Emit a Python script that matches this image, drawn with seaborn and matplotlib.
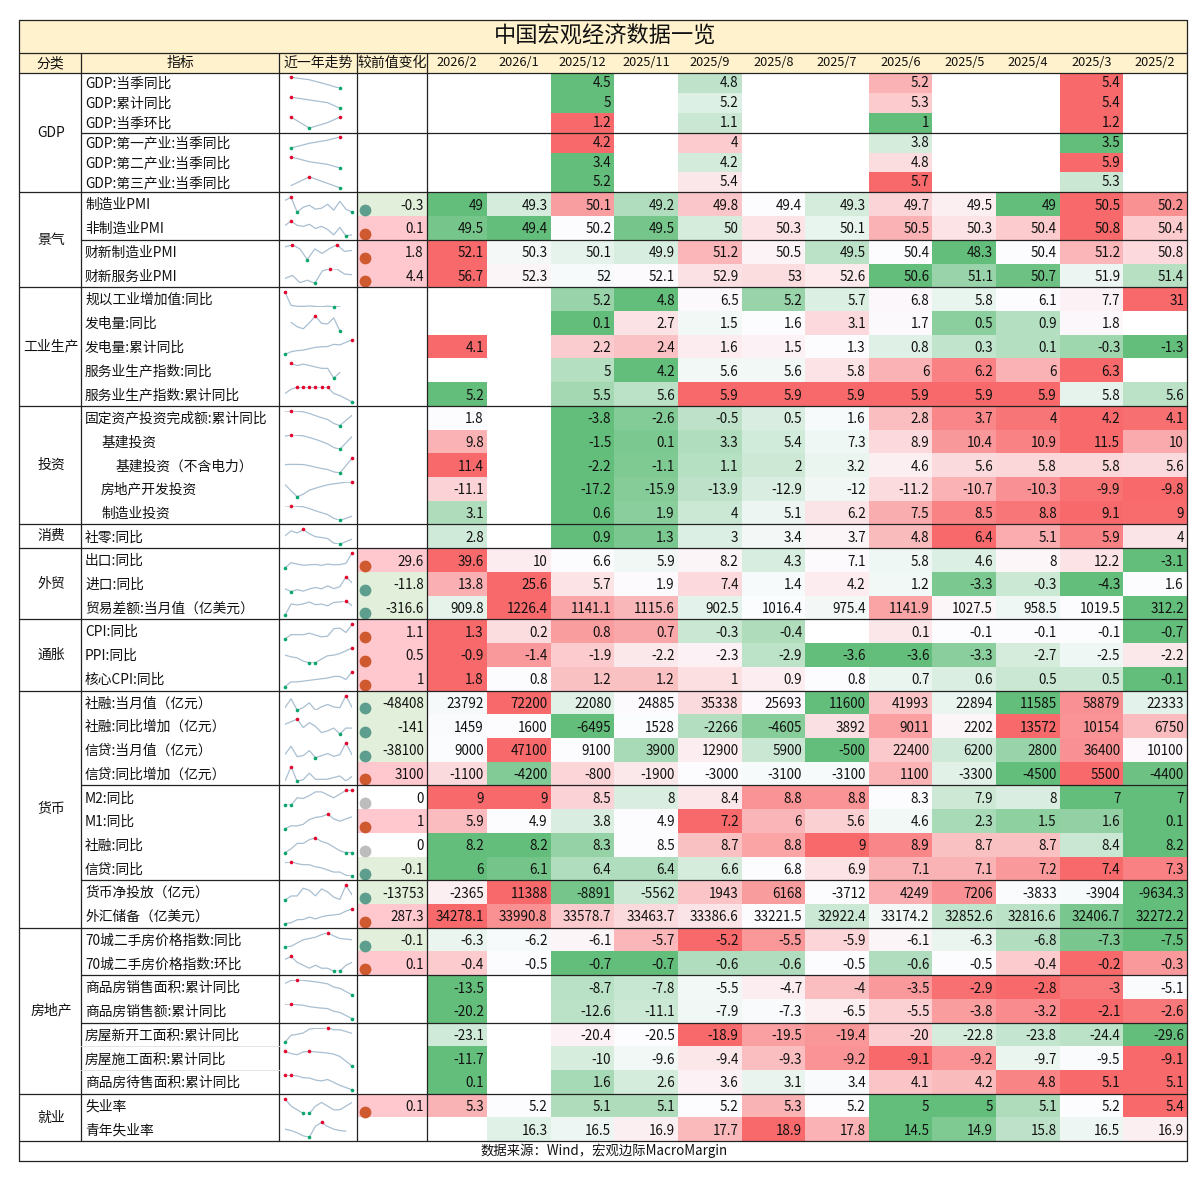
import numpy as np
import seaborn as sns
from matplotlib import pyplot as plt
from matplotlib.colors import LinearSegmentedColormap, ListedColormap
from matplotlib.patches import Rectangle

sns.set_theme(style="white")
plt.rcParams['font.family'] = ['Noto Sans CJK SC', 'DejaVu Sans']

nan = np.nan
# ------------------------------------
title = "中国宏观经济数据一览"
footer = "数据来源：Wind，宏观边际MacroMargin"
header_left = ["分类", "指标", "近一年走势", "较前值变化"]
months = ["2026/2", "2026/1", "2025/12", "2025/11", "2025/9", "2025/8", "2025/7", "2025/6", "2025/5", "2025/4", "2025/3", "2025/2"]
categories = ["GDP", "景气", "工业生产", "投资", "消费", "外贸", "通胀", "货币", "房地产", "就业"]
category_sizes = [6, 4, 5, 5, 1, 3, 3, 10, 7, 2]
row_labels = [
    "GDP:当季同比", "GDP:累计同比", "GDP:当季环比", "GDP:第一产业:当季同比", "GDP:第二产业:当季同比", "GDP:第三产业:当季同比",
    "制造业PMI", "非制造业PMI", "财新制造业PMI", "财新服务业PMI",
    "规以工业增加值:同比", "发电量:同比", "发电量:累计同比", "服务业生产指数:同比", "服务业生产指数:累计同比",
    "固定资产投资完成额:累计同比", "基建投资", "基建投资（不含电力）", "房地产开发投资", "制造业投资",
    "社零:同比",
    "出口:同比", "进口:同比", "贸易差额:当月值（亿美元）",
    "CPI:同比", "PPI:同比", "核心CPI:同比",
    "社融:当月值（亿元）", "社融:同比增加（亿元）", "信贷:当月值（亿元）", "信贷:同比增加（亿元）",
    "M2:同比", "M1:同比", "社融:同比", "信贷:同比", "货币净投放（亿元）", "外汇储备（亿美元）",
    "70城二手房价格指数:同比", "70城二手房价格指数:环比", "商品房销售面积:累计同比", "商品房销售额:累计同比",
    "房屋新开工面积:累计同比", "房屋施工面积:累计同比", "商品房待售面积:累计同比",
    "失业率", "青年失业率",
]
# -----------------
gdp_values = [
    [nan, nan, 4.5, nan, 4.8, nan, nan, 5.2, nan, nan, 5.4, nan],
    [nan, nan, 5, nan, 5.2, nan, nan, 5.3, nan, nan, 5.4, nan],
    [nan, nan, 1.2, nan, 1.1, nan, nan, 1, nan, nan, 1.2, nan],
    [nan, nan, 4.2, nan, 4, nan, nan, 3.8, nan, nan, 3.5, nan],
    [nan, nan, 3.4, nan, 4.2, nan, nan, 4.8, nan, nan, 5.9, nan],
    [nan, nan, 5.2, nan, 5.4, nan, nan, 5.7, nan, nan, 5.3, nan],
]
pmi_values = [
    [49, 49.3, 50.1, 49.2, 49.8, 49.4, 49.3, 49.7, 49.5, 49, 50.5, 50.2],
    [49.5, 49.4, 50.2, 49.5, 50, 50.3, 50.1, 50.5, 50.3, 50.4, 50.8, 50.4],
    [52.1, 50.3, 50.1, 49.9, 51.2, 50.5, 49.5, 50.4, 48.3, 50.4, 51.2, 50.8],
    [56.7, 52.3, 52, 52.1, 52.9, 53, 52.6, 50.6, 51.1, 50.7, 51.9, 51.4],
]
industry_values = [
    [nan, nan, 5.2, 4.8, 6.5, 5.2, 5.7, 6.8, 5.8, 6.1, 7.7, 31],
    [nan, nan, 0.1, 2.7, 1.5, 1.6, 3.1, 1.7, 0.5, 0.9, 1.8, nan],
    [4.1, nan, 2.2, 2.4, 1.6, 1.5, 1.3, 0.8, 0.3, 0.1, -0.3, -1.3],
    [nan, nan, 5, 4.2, 5.6, 5.6, 5.8, 6, 6.2, 6, 6.3, nan],
    [5.2, nan, 5.5, 5.6, 5.9, 5.9, 5.9, 5.9, 5.9, 5.9, 5.8, 5.6],
]
invest_values = [
    [1.8, nan, -3.8, -2.6, -0.5, 0.5, 1.6, 2.8, 3.7, 4, 4.2, 4.1],
    [9.8, nan, -1.5, 0.1, 3.3, 5.4, 7.3, 8.9, 10.4, 10.9, 11.5, 10],
    [11.4, nan, -2.2, -1.1, 1.1, 2, 3.2, 4.6, 5.6, 5.8, 5.8, 5.6],
    [-11.1, nan, -17.2, -15.9, -13.9, -12.9, -12, -11.2, -10.7, -10.3, -9.9, -9.8],
    [3.1, nan, 0.6, 1.9, 4, 5.1, 6.2, 7.5, 8.5, 8.8, 9.1, 9],
]
retail_values = [
    [2.8, nan, 0.9, 1.3, 3, 3.4, 3.7, 4.8, 6.4, 5.1, 5.9, 4],
]
trade_values = [
    [39.6, 10, 6.6, 5.9, 8.2, 4.3, 7.1, 5.8, 4.6, 8, 12.2, -3.1],
    [13.8, 25.6, 5.7, 1.9, 7.4, 1.4, 4.2, 1.2, -3.3, -0.3, -4.3, 1.6],
    [909.8, 1226.4, 1141.1, 1115.6, 902.5, 1016.4, 975.4, 1141.9, 1027.5, 958.5, 1019.5, 312.2],
]
price_values = [
    [1.3, 0.2, 0.8, 0.7, -0.3, -0.4, nan, 0.1, -0.1, -0.1, -0.1, -0.7],
    [-0.9, -1.4, -1.9, -2.2, -2.3, -2.9, -3.6, -3.6, -3.3, -2.7, -2.5, -2.2],
    [1.8, 0.8, 1.2, 1.2, 1, 0.9, 0.8, 0.7, 0.6, 0.5, 0.5, -0.1],
]
money_values = [
    [23792, 72200, 22080, 24885, 35338, 25693, 11600, 41993, 22894, 11585, 58879, 22333],
    [1459, 1600, -6495, 1528, -2266, -4605, 3892, 9011, 2202, 13572, 10154, 6750],
    [9000, 47100, 9100, 3900, 12900, 5900, -500, 22400, 6200, 2800, 36400, 10100],
    [-1100, -4200, -800, -1900, -3000, -3100, -3100, 1100, -3300, -4500, 5500, -4400],
    [9, 9, 8.5, 8, 8.4, 8.8, 8.8, 8.3, 7.9, 8, 7, 7],
    [5.9, 4.9, 3.8, 4.9, 7.2, 6, 5.6, 4.6, 2.3, 1.5, 1.6, 0.1],
    [8.2, 8.2, 8.3, 8.5, 8.7, 8.8, 9, 8.9, 8.7, 8.7, 8.4, 8.2],
    [6, 6.1, 6.4, 6.4, 6.6, 6.8, 6.9, 7.1, 7.1, 7.2, 7.4, 7.3],
    [-2365, 11388, -8891, -5562, 1943, 6168, -3712, 4249, 7206, -3833, -3904, -9634.3],
    [34278.1, 33990.8, 33578.7, 33463.7, 33386.6, 33221.5, 32922.4, 33174.2, 32852.6, 32816.6, 32406.7, 32272.2],
]
housing_values = [
    [-6.3, -6.2, -6.1, -5.7, -5.2, -5.5, -5.9, -6.1, -6.3, -6.8, -7.3, -7.5],
    [-0.4, -0.5, -0.7, -0.7, -0.6, -0.6, -0.5, -0.6, -0.5, -0.4, -0.2, -0.3],
    [-13.5, nan, -8.7, -7.8, -5.5, -4.7, -4, -3.5, -2.9, -2.8, -3, -5.1],
    [-20.2, nan, -12.6, -11.1, -7.9, -7.3, -6.5, -5.5, -3.8, -3.2, -2.1, -2.6],
    [-23.1, nan, -20.4, -20.5, -18.9, -19.5, -19.4, -20, -22.8, -23.8, -24.4, -29.6],
    [-11.7, nan, -10, -9.6, -9.4, -9.3, -9.2, -9.1, -9.2, -9.7, -9.5, -9.1],
    [0.1, nan, 1.6, 2.6, 3.6, 3.1, 3.4, 4.1, 4.2, 4.8, 5.1, 5.1],
]
jobs_values = [
    [5.3, 5.2, 5.1, 5.1, 5.2, 5.3, 5.2, 5, 5, 5.1, 5.2, 5.4],
    [nan, 16.3, 16.5, 16.9, 17.7, 18.9, 17.8, 14.5, 14.9, 15.8, 16.5, 16.9],
]
# change vs previous value, rows below the GDP block
change_values = [
    -0.3, 0.1, 1.8, 4.4,
    nan, nan, nan, nan, nan,
    nan, nan, nan, nan, nan,
    nan,
    29.6, -11.8, -316.6,
    1.1, 0.5, 1,
    -48408, -141, -38100, 3100, 0, 1, 0, -0.1, -13753, 287.3,
    -0.1, 0.1, nan, nan, nan, nan, nan,
    0.1, nan,
]
# white point / top of the colour scale, judged from the cell colours where the
# row's own median and max do not explain them (row index: value)
scale_mid = {6: 49.4, 7: 50.2, 11: 1.6, 13: 5.7, 16: 8.1, 17: 3.9, 18: -11.6, 19: 5.65, 20: 3.55,
             21: 6.6, 22: 1.6, 28: 1560, 31: 8.3, 32: 4.9, 33: 8.5, 34: 6.8, 35: -3712, 36: 33221,
             39: -4.9, 40: -6.9, 41: -20.5, 42: -9.45, 43: 3.5, 45: 16.7}
scale_hi = {11: 7.9}
# ------------------
W, H = 1200, 1181
DPI = 100
LEFT, CAT_R, LABEL_R, SPARK_R, CHANGE_R, FIRST_R, RIGHT = 19, 81, 279, 357, 427, 487, 1187
TITLE_T, HEAD_T, HEAD_B, FOOT_B = 20, 53, 73, 1161
GDP_ROW_H, ROW_H = 19.9, 23.72
GREEN, WHITE, RED = "#63BE7B", "#FCFCFF", "#F8696B"
LINE = "#222222"
INK = "#111111"

values = np.array(gdp_values + pmi_values + industry_values + invest_values + retail_values
                  + trade_values + price_values + money_values + housing_values + jobs_values, dtype=float)
nrows, ncols = values.shape
ngdp = len(gdp_values)
changes = np.array(change_values, dtype=float)
row_edges = np.r_[HEAD_B + GDP_ROW_H * np.arange(ngdp + 1),
                  HEAD_B + GDP_ROW_H * ngdp + ROW_H * np.arange(1, nrows - ngdp + 1)]
col_edges = np.r_[CHANGE_R, np.linspace(FIRST_R, RIGHT, ncols)]


def row_scale(i, row):
    # colour scale of each row: min - median - max
    lo = np.nanmin(row)
    mid = scale_mid.get(i, np.nanmedian(row))
    hi = scale_hi.get(i, np.nanmax(row))
    return np.interp(row, [lo, mid, hi], [0, 0.5, 1])


def px_axes(fig, x0, y0, x1, y1, **kw):
    return fig.add_axes([x0 / W, 1 - y1 / H, (x1 - x0) / W, (y1 - y0) / H], **kw)


def draw_heat(fig, mat, x0, y0, x1, y1, cmap, vmin, vmax):
    ax = px_axes(fig, x0, y0, x1, y1)
    sns.heatmap(mat, mask=np.isnan(mat), cmap=cmap, vmin=vmin, vmax=vmax, cbar=False,
                xticklabels=False, yticklabels=False, ax=ax)
    ax.set_xlabel("")
    ax.set_ylabel("")
    return ax


fig = plt.figure(figsize=(W / DPI, H / DPI), dpi=DPI, facecolor="white")
scale = LinearSegmentedColormap.from_list("excel", [GREEN, WHITE, RED])
norm = np.array([row_scale(i, r) for i, r in enumerate(values)])
ymid = row_edges[ngdp]

# month cells: first column is a bit narrower, GDP rows are shorter
draw_heat(fig, norm[:ngdp, :1], CHANGE_R, HEAD_B, FIRST_R, ymid, scale, 0, 1)
draw_heat(fig, norm[:ngdp, 1:], FIRST_R, HEAD_B, RIGHT, ymid, scale, 0, 1)
draw_heat(fig, norm[ngdp:, :1], CHANGE_R, ymid, FIRST_R, row_edges[-1], scale, 0, 1)
draw_heat(fig, norm[ngdp:, 1:], FIRST_R, ymid, RIGHT, row_edges[-1], scale, 0, 1)
# change column
sign_cmap = ListedColormap(["#E2EFDA", "#FFFFFF", "#FFC7CE"])
draw_heat(fig, np.sign(changes).reshape(-1, 1), SPARK_R, ymid, CHANGE_R, row_edges[-1], sign_cmap, -1.5, 1.5)

# sparklines, oldest month on the left
spark_forward = [18]        # this one runs newest first in the reference
spark_skip_latest = [8, 9]  # Caixin PMI lines stop at 2025/12
for i in range(nrows):
    top, bot = row_edges[i], row_edges[i + 1]
    margin_t, margin_b = (4.3, 4.6) if i < ngdp else (5.0, 4.0)
    ax = px_axes(fig, 285, top + margin_t, 352, bot - margin_b)
    y = values[i][2:] if i in spark_skip_latest else values[i]
    if i not in spark_forward:
        y = y[::-1]
    x = np.arange(len(y))
    ok = ~np.isnan(y)
    sns.lineplot(x=x[ok], y=y[ok], color="#A9BFD1", linewidth=0.9, estimator=None, ax=ax)
    ax.plot(x[y == np.nanmax(y)], y[y == np.nanmax(y)], "o", ms=2.6, mew=0, color="#E3062C", clip_on=False)
    ax.plot(x[y == np.nanmin(y)], y[y == np.nanmin(y)], "o", ms=2.6, mew=0, color="#0AA56B", clip_on=False)
    ax.set_xlim(0, len(y) - 1)
    ax.set_ylim(np.nanmin(y), np.nanmax(y))
    ax.set_axis_off()

# overlay in pixel coordinates: frame, header and all cell text
ah = fig.add_axes([0, 0, 1, 1], zorder=10)
ah.set_xlim(0, W)
ah.set_ylim(H, 0)
ah.set_axis_off()
ah.add_patch(Rectangle((LEFT, TITLE_T), RIGHT - LEFT, HEAD_B - TITLE_T, fc="#FFF2CC", ec="none"))

ah.text((LEFT + RIGHT) / 2 + 2, (TITLE_T + HEAD_T) / 2, title, fontsize=16, ha="center", va="center", color=INK)
head_x = [LEFT, CAT_R, LABEL_R, SPARK_R, CHANGE_R]
head_y = (HEAD_T + HEAD_B) / 2
for k, txt in enumerate(header_left):
    ah.text((head_x[k] + head_x[k + 1]) / 2, head_y, txt, fontsize=10, ha="center", va="center", color=INK)
for j, txt in enumerate(months):
    ah.text((col_edges[j] + col_edges[j + 1]) / 2, head_y, txt, fontsize=9.2, ha="center", va="center", color=INK)

# category and indicator labels
indent = {16: 101, 17: 116, 18: 101, 19: 101}
pos = 0
for cat, n in zip(categories, category_sizes):
    ah.text((LEFT + CAT_R) / 2 + 1, (row_edges[pos] + row_edges[pos + n]) / 2, cat,
            fontsize=10, ha="center", va="center", color=INK)
    pos += n
for i, txt in enumerate(row_labels):
    ah.text(indent.get(i, 85), (row_edges[i] + row_edges[i + 1]) / 2 + 1, txt,
            fontsize=9.9, ha="left", va="center", color=INK)

# values, right aligned
for i in range(nrows):
    dy = 0 if i < ngdp else 1.5
    ymd = (row_edges[i] + row_edges[i + 1]) / 2 + dy
    for j in range(ncols):
        if not np.isnan(values[i, j]):
            ah.text(col_edges[j + 1] - 3, ymd, f"{values[i, j]:g}", fontsize=9.7, ha="right", va="center", color=INK)
# change column text and dots
dot_colors = {-1: "#5E9E8E", 0: "#BDBDBD", 1: "#CF5A30"}
for k, v in enumerate(changes):
    if np.isnan(v):
        continue
    top = row_edges[ngdp + k]
    ah.text(CHANGE_R - 3, top + ROW_H / 2 + 1.5, f"{v:g}", fontsize=9.7, ha="right", va="center", color=INK)
    ah.scatter([365], [top + 0.75 * ROW_H], s=72, color=dot_colors[int(np.sign(v))], linewidths=0)

ah.text((LEFT + RIGHT) / 2 + 1, (row_edges[-1] + FOOT_B) / 2, footer, fontsize=9.6, ha="center", va="center", color=INK)

# grid lines
main_breaks = [6, 10, 15, 20, 21, 24, 27, 37, 44, 46]
sub_breaks = [3, 8, 31, 35, 39, 41]
for y in [TITLE_T, HEAD_T, HEAD_B, FOOT_B]:
    ah.plot([LEFT, RIGHT], [y, y], color=LINE, lw=0.9)
for b in main_breaks:
    ah.plot([LEFT, RIGHT], [row_edges[b]] * 2, color=LINE, lw=0.9)
for b in sub_breaks:
    ah.plot([CAT_R, RIGHT], [row_edges[b]] * 2, color=LINE, lw=0.9)
for x in [CAT_R, LABEL_R, SPARK_R, CHANGE_R]:
    ah.plot([x, x], [HEAD_T, row_edges[-1]], color=LINE, lw=0.9)
for x in [LEFT, RIGHT]:
    ah.plot([x, x], [TITLE_T, FOOT_B], color=LINE, lw=0.9)
for b in [43, 42]:
    ah.plot([CAT_R, LABEL_R], [row_edges[b]] * 2, color="#E4E4E4", lw=0.7)

fig.savefig("out.png", dpi=DPI)
